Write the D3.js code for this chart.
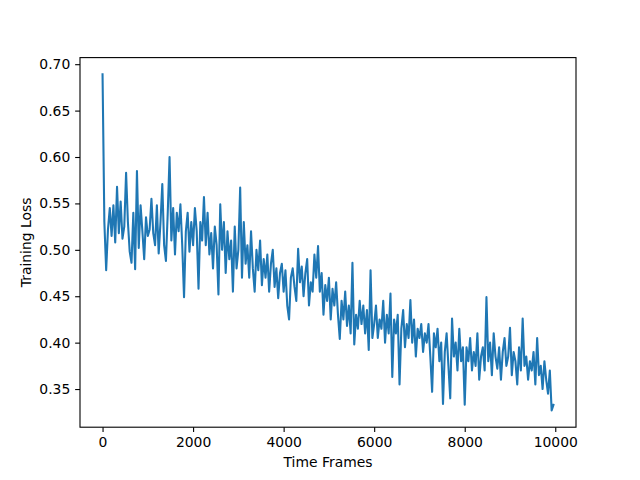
<!DOCTYPE html>
<html>
  <head>
    <style>
      body {margin: 0; background: #fff;}
      * {font-family: "DejaVu Sans", sans-serif;}
    </style>
    <script src="https://d3js.org/d3.v7.min.js"></script>
  </head>
  <body>
    <div id="chart-div"></div>
    <script>
      // training loss, one reading every 40 time frames
      const frameStep = 40
      const losses = [
        0.689, 0.530, 0.478, 0.522, 0.545, 0.515, 0.548, 0.508, 0.568, 0.518,
        0.552, 0.512, 0.525, 0.583, 0.530, 0.498, 0.486, 0.540, 0.479, 0.585,
        0.502, 0.548, 0.520, 0.490, 0.535, 0.515, 0.522, 0.555, 0.518, 0.505,
        0.548, 0.496, 0.530, 0.571, 0.505, 0.488, 0.540, 0.600, 0.510, 0.545,
        0.495, 0.540, 0.520, 0.549, 0.505, 0.449, 0.520, 0.540, 0.498, 0.530,
        0.505, 0.545, 0.520, 0.458, 0.530, 0.510, 0.557, 0.505, 0.540, 0.495,
        0.518, 0.480, 0.525, 0.505, 0.452, 0.549, 0.500, 0.530, 0.475, 0.520,
        0.490, 0.510, 0.455, 0.525, 0.480, 0.500, 0.567, 0.470, 0.530, 0.485,
        0.505, 0.470, 0.520, 0.480, 0.455, 0.500, 0.478, 0.510, 0.462, 0.490,
        0.470, 0.495, 0.455, 0.485, 0.500, 0.460, 0.480, 0.448, 0.475, 0.485,
        0.455, 0.478, 0.440, 0.425, 0.470, 0.480, 0.460, 0.445, 0.501, 0.465,
        0.482, 0.450, 0.475, 0.490, 0.440, 0.465, 0.455, 0.495, 0.470, 0.504,
        0.455, 0.475, 0.430, 0.462, 0.445, 0.470, 0.425, 0.458, 0.440, 0.465,
        0.430, 0.404, 0.445, 0.425, 0.455, 0.418, 0.440, 0.410, 0.486, 0.398,
        0.430, 0.415, 0.445, 0.420, 0.440, 0.410, 0.435, 0.392, 0.478, 0.405,
        0.420, 0.440, 0.405, 0.425, 0.415, 0.445, 0.400, 0.430, 0.410, 0.453,
        0.363, 0.425, 0.410, 0.430, 0.355, 0.415, 0.435, 0.395, 0.420, 0.405,
        0.446, 0.400, 0.425, 0.385, 0.415, 0.405, 0.420, 0.390, 0.410, 0.400,
        0.420, 0.385, 0.347, 0.410, 0.395, 0.415, 0.380, 0.400, 0.334, 0.390,
        0.410, 0.375, 0.340, 0.426, 0.385, 0.400, 0.370, 0.415, 0.380, 0.395,
        0.333, 0.395, 0.380, 0.405, 0.370, 0.390, 0.375, 0.410, 0.360, 0.385,
        0.395, 0.370, 0.449, 0.380, 0.400, 0.365, 0.410, 0.385, 0.372, 0.395,
        0.360, 0.390, 0.405, 0.375, 0.385, 0.416, 0.365, 0.390, 0.380, 0.355,
        0.395, 0.370, 0.426, 0.375, 0.385, 0.360, 0.380, 0.370, 0.390, 0.355,
        0.405, 0.365, 0.375, 0.350, 0.380, 0.360, 0.345, 0.370, 0.327, 0.333
      ]
      const frames = losses.map((d, i) => i * frameStep)
      const xTicks = [0, 2000, 4000, 6000, 8000, 10000]
      const yTicks = [0.35, 0.40, 0.45, 0.50, 0.55, 0.60, 0.65, 0.70]

      var w = 640, h = 480
      margin = ({top: 57.6, right: 64, bottom: 52.8, left: 80})

      var svg = d3.select("#chart-div")
        .append("svg")
        .attr("width", w)
        .attr("height", h)

      // matplotlib style 5% padding around the data
      let xExt = d3.extent(frames), yExt = d3.extent(losses)
      let xPad = (xExt[1] - xExt[0]) * 0.05, yPad = (yExt[1] - yExt[0]) * 0.05

      let x = d3.scaleLinear()
        .domain([xExt[0] - xPad, xExt[1] + xPad])
        .range([margin.left, w - margin.right])
      let y = d3.scaleLinear()
        .domain([yExt[0] - yPad, yExt[1] + yPad])
        .range([h - margin.bottom, margin.top])

      let line = d3.line()
        .x((d, i) => x(frames[i]))
        .y(d => y(d))

      svg.append("path")
        .datum(losses)
        .attr("d", line)
        .style("fill", "none")
        .style("stroke", "#1f77b4")
        .style("stroke-width", 2.08)
        .style("stroke-linejoin", "round")
        .style("stroke-linecap", "square")

      let xAxis = svg.append("g")
        .attr("transform", "translate(0," + (h - margin.bottom) + ")")
        .call(d3.axisBottom(x).tickValues(xTicks).tickFormat(d3.format("d")).tickSize(4.86).tickPadding(4.86))
      let yAxis = svg.append("g")
        .attr("transform", "translate(" + margin.left + ",0)")
        .call(d3.axisLeft(y).tickValues(yTicks).tickFormat(d3.format(".2f")).tickSize(4.86).tickPadding(4.86))

      for (let a of [xAxis, yAxis]) {
        a.select(".domain").remove()
        a.selectAll(".tick line").style("stroke", "#000").style("stroke-width", 1.1)
        a.selectAll(".tick text").style("font-size", "13.9px").style("fill", "#000")
      }

      svg.append("rect")
        .attr("x", margin.left)
        .attr("y", margin.top)
        .attr("width", w - margin.left - margin.right)
        .attr("height", h - margin.top - margin.bottom)
        .style("fill", "none")
        .style("stroke", "#000")
        .style("stroke-width", 1.1)

      svg.append("text")
        .attr("x", (margin.left + w - margin.right) / 2)
        .attr("y", 467)
        .attr("text-anchor", "middle")
        .style("font-size", "13.9px")
        .text("Time Frames")

      svg.append("text")
        .attr("transform", "translate(31," + (margin.top + (h - margin.top - margin.bottom) / 2) + ") rotate(-90)")
        .attr("text-anchor", "middle")
        .style("font-size", "13.9px")
        .text("Training Loss")
    </script>
  </body>
</html>
